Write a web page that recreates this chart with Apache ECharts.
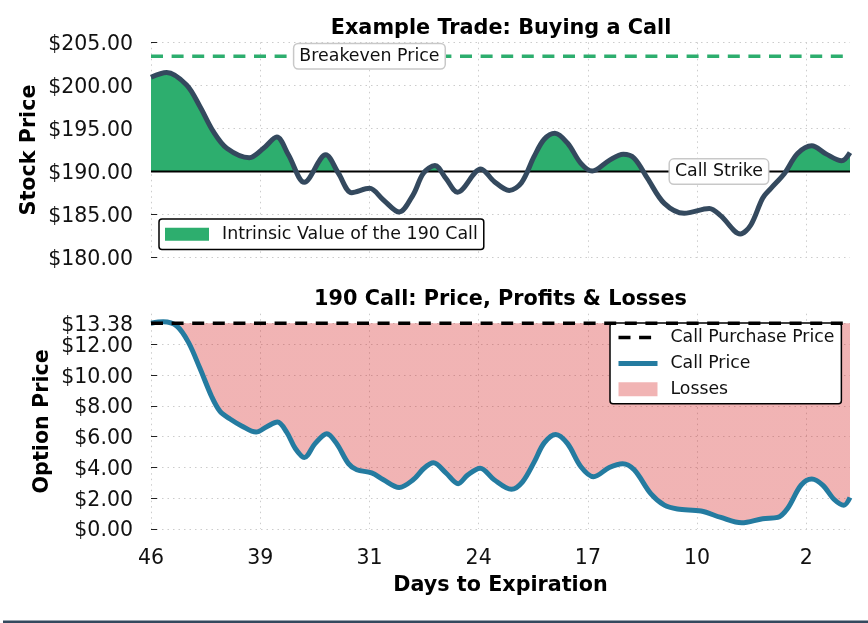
<!DOCTYPE html>
<html>
<head>
<meta charset="utf-8">
<style>
  html, body { margin: 0; padding: 0; background: #fff; }
  #chart { width: 868px; height: 623px; }
</style>
<script src="https://cdn.jsdelivr.net/npm/echarts@6/dist/echarts.min.js"></script>
</head>
<body>
<div id="chart"></div>
<script>
// x is the trading day counted from the first one
var stockDays = [
  0, 0.72, 1.63, 2.24, 2.85, 3.47, 4.5, 5.15, 5.76, 6.29, 7.02, 8, 8.58, 9.19, 10, 10.64,
  11.36, 12, 12.47, 13, 13.5, 14.03, 15.1, 15.71, 16.4, 16.96, 17.54, 18, 18.49, 19.07,
  19.68, 20.2, 20.98, 21.62, 22.12, 22.73, 23.5, 24.41, 25.56, 26.09, 26.98, 27.46,
  28, 28.38, 28.99, 29.6, 30.25, 30.9, 31.62, 32
];
var stockPrice = [
  200.95, 201.5, 200.05, 197.55, 194.65, 192.7, 191.6, 192.7, 194, 191.95, 188.75, 191.95, 189.8, 187.55, 188.05, 186.7,
  185.3, 187.3, 189.8, 190.7, 189.2, 187.6, 190.3, 188.85, 187.8, 188.7, 191.75, 193.75, 194.45, 193.3,
  190.95, 190.05, 191.3, 192, 191.55, 189.2, 186.3, 185.15, 185.7, 184.85, 182.75, 183.8,
  186.9, 188.05, 189.75, 192.1, 193, 192.05, 191.25, 192.2
];
var optionDays = [
  0, 0.56, 1.18, 1.71, 2.24, 2.78, 3.16, 3.62, 4.15, 4.81, 5.3, 5.79, 6.21, 6.6, 7.02, 7.51,
  8.05, 8.5, 9.04, 9.42, 10.1, 10.64, 11.36, 12, 12.5, 12.93, 13.5, 14.06, 14.49, 15.07,
  15.71, 16.5, 17, 17.54, 18, 18.53, 19.07, 19.68, 20.26, 20.98, 21.59, 22.12, 22.88,
  23.5, 24.1, 25.18, 26.09, 27.04, 28, 28.69, 29.15, 29.76, 30.25, 30.75, 31.29, 31.72, 32
];
var callPrice = [
  13.38, 13.47, 13.2, 12.15, 10.45, 8.6, 7.65, 7.15, 6.7, 6.3, 6.65, 6.95, 6.3, 5.25, 4.65, 5.55,
  6.2, 5.55, 4.25, 3.85, 3.65, 3.2, 2.7, 3.2, 3.95, 4.3, 3.65, 2.95, 3.5, 3.95,
  3.2, 2.58, 3.05, 4.35, 5.6, 6.15, 5.55, 4.05, 3.4, 4, 4.25, 3.85, 2.3,
  1.55, 1.3, 1.17, 0.75, 0.4, 0.67, 0.75, 1.35, 2.85, 3.25, 2.85, 1.9, 1.55, 2.05
];
var dayLabels = ['46', '39', '31', '24', '17', '10', '2'];
var stockTicks = [180, 185, 190, 195, 200, 205];
var optionTicks = [0, 2, 4, 6, 8, 10, 12, 13.38];
var strikePrice = 190;
var breakevenPrice = 203.38;
var purchasePrice = 13.38;
var lastDay = 32;

var GREEN = '#2dae6e';
var DARK = '#34495e';
var BLUE = '#247ba0';
var PINK = 'rgba(214,39,40,0.35)';
var CLEAR = 'rgba(0,0,0,0)';
var FONT = '"DejaVu Sans"';
var DASH = [12, 8.6];
var SMOOTH = 0.33;

function pairs(days, values) {
  return values.map(function (v, i) { return [days[i], v]; });
}
function flat(v) {
  return [[0, v], [lastDay, v]];
}
function money(v) {
  return '$' + Number(v).toFixed(2);
}
function boxLabel(text, x, y) {
  return {
    symbol: 'rect',
    symbolSize: 0,
    silent: true,
    data: [{ coord: [x, y] }],
    label: {
      show: true,
      position: 'inside',
      formatter: text,
      color: '#111',
      fontFamily: FONT,
      fontSize: 17.4,
      backgroundColor: '#fff',
      borderColor: '#c8c8c8',
      borderWidth: 1.5,
      borderRadius: 4,
      padding: [4, 5, 3, 5]
    }
  };
}
function xAxis(index, showLabels) {
  return {
    type: 'value',
    gridIndex: index,
    min: 0,
    max: lastDay,
    interval: 5,
    axisLine: { show: false },
    axisTick: { show: false },
    axisLabel: {
      show: showLabels,
      margin: 19,
      color: '#111',
      fontFamily: FONT,
      fontSize: 20.5,
      showMaxLabel: false,
      formatter: function (v) { return v % 5 === 0 ? dayLabels[v / 5] : ''; }
    },
    splitLine: { show: true, showMaxLine: false, lineStyle: { color: '#ccc', type: [1.5, 4], width: 1 } },
    name: showLabels ? 'Days to Expiration' : '',
    nameLocation: 'middle',
    nameGap: 46,
    nameMoveOverlap: false,
    nameTextStyle: { color: '#000', fontFamily: FONT, fontWeight: 'bold', fontSize: 20.7 }
  };
}
function yAxis(index, min, max, ticks, name, gap) {
  return {
    type: 'value',
    gridIndex: index,
    min: min,
    max: max,
    axisLine: { show: false },
    axisTick: { show: true, inside: true, length: 6, customValues: ticks, lineStyle: { color: '#222', width: 1 } },
    axisLabel: { customValues: ticks, margin: 18, color: '#111', fontFamily: FONT, fontSize: 20.5, verticalAlign: 'top', lineHeight: 4, formatter: money },
    splitLine: { show: true, lineStyle: { color: '#ccc', type: [1.5, 4], width: 1 } },
    name: name,
    nameLocation: 'middle',
    nameGap: gap,
    nameMoveOverlap: false,
    nameTextStyle: { color: '#000', fontFamily: FONT, fontWeight: 'bold', fontSize: 20.7 }
  };
}

var myChart = echarts.init(document.getElementById('chart'));
var option = {
  animation: false,
  backgroundColor: '#fff',
  title: [
    { text: 'Example Trade: Buying a Call', left: 496, top: 13, textAlign: 'center', textStyle: { color: '#000', fontFamily: FONT, fontWeight: 'bold', fontSize: 20.8 } },
    { text: '190 Call: Price, Profits & Losses', left: 495.5, top: 284, textAlign: 'center', textStyle: { color: '#000', fontFamily: FONT, fontWeight: 'bold', fontSize: 20.8 } }
  ],
  grid: [
    { left: 151, right: 18, top: 42.3, height: 215.4 },
    { left: 151, right: 18, top: 313.7, height: 215.3 }
  ],
  xAxis: [xAxis(0, false), xAxis(1, true)],
  yAxis: [
    yAxis(0, 180, 205, stockTicks, 'Stock Price', 111),
    yAxis(1, 0, 14, optionTicks, 'Option Price', 98)
  ],
  // only the part of each area on the wanted side of its reference line is painted
  visualMap: [
    {
      show: false,
      seriesIndex: 0,
      dimension: 1,
      pieces: [
        { min: 170, max: strikePrice, color: CLEAR },
        { min: strikePrice, max: 210, color: GREEN }
      ]
    },
    {
      show: false,
      seriesIndex: 3,
      dimension: 1,
      pieces: [
        { min: -5, max: purchasePrice, color: PINK },
        { min: purchasePrice, max: 20, color: CLEAR }
      ]
    }
  ],
  legend: [
    {
      left: 159,
      top: 219,
      orient: 'vertical',
      selectedMode: false,
      data: [{ name: 'Intrinsic Value of the 190 Call', icon: 'rect', itemStyle: { color: GREEN } }],
      itemWidth: 44,
      itemHeight: 13,
      padding: [6.8, 6, 6.8, 6],
      backgroundColor: '#fff',
      borderColor: '#000',
      borderWidth: 1.5,
      borderRadius: 3,
      textStyle: { color: '#111', fontFamily: FONT, fontSize: 17.4, padding: [0, 0, 0, 8] }
    },
    {
      left: 610,
      top: 323,
      orient: 'vertical',
      selectedMode: false,
      data: [
        { name: 'Call Purchase Price', itemStyle: { opacity: 0 }, lineStyle: { color: '#000', width: 3.5, type: DASH } },
        { name: 'Call Price', itemStyle: { opacity: 0 }, lineStyle: { color: BLUE, width: 5, type: 'solid' } },
        { name: 'Losses', icon: 'rect', itemStyle: { color: PINK } }
      ],
      itemWidth: 39,
      itemHeight: 14,
      itemGap: 8.9,
      padding: [6, 7, 6, 6],
      backgroundColor: '#fff',
      borderColor: '#000',
      borderWidth: 1.5,
      borderRadius: 3,
      textStyle: { color: '#111', fontFamily: FONT, fontSize: 17.3, padding: [0, 0, 0, 8] }
    }
  ],
  series: [
    {
      name: 'Intrinsic Value of the 190 Call',
      type: 'line',
      xAxisIndex: 0,
      yAxisIndex: 0,
      data: pairs(stockDays, stockPrice),
      smooth: SMOOTH,
      symbol: 'none',
      lineStyle: { width: 0 },
      areaStyle: { origin: strikePrice, opacity: 1 },
      z: 2
    },
    {
      name: 'Call Strike',
      type: 'line',
      xAxisIndex: 0,
      yAxisIndex: 0,
      data: flat(strikePrice),
      symbol: 'none',
      lineStyle: { color: '#000', width: 2 },
      markPoint: boxLabel('Call Strike', 26, strikePrice),
      z: 3
    },
    {
      name: 'Breakeven Price',
      type: 'line',
      xAxisIndex: 0,
      yAxisIndex: 0,
      data: flat(breakevenPrice),
      symbol: 'none',
      lineStyle: { color: GREEN, width: 3.5, type: DASH },
      markPoint: boxLabel('Breakeven Price', 10, breakevenPrice),
      z: 3
    },
    {
      name: 'Losses',
      type: 'line',
      xAxisIndex: 1,
      yAxisIndex: 1,
      data: pairs(optionDays, callPrice),
      smooth: SMOOTH,
      symbol: 'none',
      lineStyle: { width: 0 },
      areaStyle: { origin: purchasePrice, opacity: 1 },
      z: 2
    },
    {
      name: 'Stock Price',
      type: 'line',
      xAxisIndex: 0,
      yAxisIndex: 0,
      data: pairs(stockDays, stockPrice),
      smooth: SMOOTH,
      symbol: 'none',
      lineStyle: { color: DARK, width: 5 },
      z: 4
    },
    {
      name: 'Call Price',
      type: 'line',
      xAxisIndex: 1,
      yAxisIndex: 1,
      itemStyle: { color: BLUE },
      data: pairs(optionDays, callPrice),
      smooth: SMOOTH,
      symbol: 'none',
      lineStyle: { color: BLUE, width: 5 },
      z: 4
    },
    {
      name: 'Call Purchase Price',
      type: 'line',
      xAxisIndex: 1,
      yAxisIndex: 1,
      itemStyle: { color: '#000' },
      data: flat(purchasePrice),
      symbol: 'none',
      lineStyle: { color: '#000', width: 3.5, type: DASH },
      z: 5
    }
  ],
  graphic: [
    // dark strip along the bottom edge of the picture
    { type: 'rect', left: 3, top: 620.5, shape: { width: 865, height: 2.5 }, style: { fill: DARK } }
  ]
};
myChart.setOption(option);
</script>
</body>
</html>
